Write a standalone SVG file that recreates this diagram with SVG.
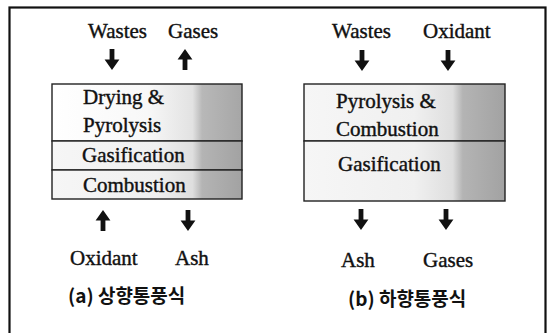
<svg xmlns="http://www.w3.org/2000/svg" xmlns:xlink="http://www.w3.org/1999/xlink" width="552" height="333" viewBox="0 0 552 333">
<style>
text.t{font-family:"Liberation Serif","Times New Roman",serif;font-size:21px;fill:#111;stroke:#111;stroke-width:0.4}
text.cap{font-family:"Noto Sans CJK KR","Noto Sans",sans-serif;font-size:19px;font-weight:600;fill:#111}
.box{stroke:#222;stroke-width:1.4}
.arr{fill:#111}
</style>
<defs>
<linearGradient id="shade" x1="0" y1="0" x2="1" y2="0">
<stop offset="0" stop-color="#f6f6f6"/>
<stop offset="0.55" stop-color="#f0f0f0"/>
<stop offset="0.74" stop-color="#dedede"/>
<stop offset="0.79" stop-color="#b4b4b4"/>
<stop offset="1" stop-color="#a2a2a2"/>
</linearGradient>
<linearGradient id="shadeW" x1="0" y1="0" x2="1" y2="0">
<stop offset="0" stop-color="#ffffff"/>
<stop offset="0.5" stop-color="#f8f8f8"/>
<stop offset="0.74" stop-color="#e2e2e2"/>
<stop offset="0.79" stop-color="#b8b8b8"/>
<stop offset="1" stop-color="#a6a6a6"/>
</linearGradient>
<path id="dn" d="M-2.4,0 h4.8 v10.5 h5 L0,21 L-7.4,10.5 h5 z"/>
<path id="up" d="M-2.4,21 h4.8 v-10.5 h5 L0,0 L-7.4,10.5 h5 z"/>
</defs>
<rect x="9.5" y="7.5" width="536" height="335" fill="none" stroke="#111" stroke-width="2.2"/>

<g id="updraft-reactor">
<rect x="52" y="84" width="190" height="57" fill="url(#shadeW)" class="box"/>
<rect x="52" y="141" width="190" height="29" fill="url(#shade)" class="box"/>
<rect x="52" y="170" width="190" height="29" fill="url(#shade)" class="box"/>
<text class="t" x="83" y="104">Drying &amp;</text>
<text class="t" x="83" y="132">Pyrolysis</text>
<text class="t" x="82" y="162">Gasification</text>
<text class="t" x="83" y="192">Combustion</text>
</g>

<g id="downdraft-reactor">
<rect x="304" y="84" width="201" height="57" fill="url(#shade)" class="box"/>
<rect x="304" y="141" width="201" height="60" fill="url(#shade)" class="box"/>
<text class="t" x="336" y="108">Pyrolysis &amp;</text>
<text class="t" x="336" y="136">Combustion</text>
<text class="t" x="338" y="171">Gasification</text>
</g>

<g id="labels-a">
<text class="t" x="88" y="38">Wastes</text>
<text class="t" x="168" y="38">Gases</text>
<text class="t" x="70" y="265">Oxidant</text>
<text class="t" x="175" y="265">Ash</text>
<text class="cap" x="68" y="303">(a) 상향통풍식</text>
</g>

<g id="labels-b">
<text class="t" x="332" y="38">Wastes</text>
<text class="t" x="423" y="38">Oxidant</text>
<text class="t" x="341" y="267">Ash</text>
<text class="t" x="423" y="267">Gases</text>
<text class="cap" x="348" y="306">(b) 하향통풍식</text>
</g>

<g id="connectors" class="arr">
<use xlink:href="#dn" x="112" y="49"/>
<use xlink:href="#up" x="185" y="49"/>
<use xlink:href="#dn" x="362" y="50"/>
<use xlink:href="#dn" x="448" y="50"/>
<use xlink:href="#up" x="103" y="210"/>
<use xlink:href="#dn" x="188" y="210"/>
<use xlink:href="#dn" x="361" y="209"/>
<use xlink:href="#dn" x="446" y="209"/>
</g>
</svg>
